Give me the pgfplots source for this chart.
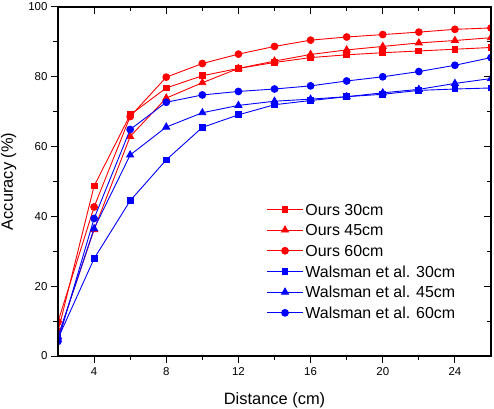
\documentclass[border=0pt]{standalone}
\usepackage{fontspec}
\setmainfont{Liberation Sans}
\usepackage{pgfplots}
\pgfplotsset{compat=1.18}
\definecolor{cred}{RGB}{255,0,0}
\definecolor{cblue}{RGB}{0,0,255}
\begin{document}
\begin{tikzpicture}
\pgfplotsset{
  common/.style={
    scale only axis, width=433bp, height=349bp,
    xmin=2, xmax=26, ymin=0, ymax=100,
    xtick={4,8,12,16,20,24}, ytick={0,20,40,60,80,100},
    minor xtick={6,10,14,18,22}, minor ytick={10,30,50,70,90},
    axis line style={line width=1.2bp},
    major tick style={line width=1bp, black},
    minor tick style={line width=1bp, black},
    major tick length=7bp, minor tick length=4.5bp,
  },
}
\begin{axis}[common,
  xtick pos=bottom, ytick pos=left, tick align=outside,
  /pgf/number format/assume math mode=true,
  ticklabel style={font=\fontsize{11.5}{13}\selectfont},
  xticklabel style={yshift=-1bp},
  every axis x label/.style={at={(axis description cs:0.5,-0.1255)}, anchor=center},
  every axis y label/.style={at={(axis description cs:-0.1143,0.5)}, anchor=center, rotate=90},
  label style={font=\fontsize{16.5}{18}\selectfont},
  xlabel={Distance (cm)}, ylabel={Accuracy (\%)},
  clip marker paths=true,
  every axis plot/.append style={line width=0.9bp},
  legend cell align=left,
  legend style={at={(axis cs:13.55,44.3)}, anchor=north west, draw=none, fill=none,
    inner sep=0pt, row sep=5.2bp, font=\fontsize{16}{18}\selectfont,
    nodes={inner sep=2bp, text height=11.5bp, text depth=0bp},
    /tikz/every even column/.append style={column sep=5bp}},
  legend image code/.code={\draw[mark repeat=2, mark phase=2] plot coordinates {(0bp,0bp) (18bp,0bp) (36bp,0bp)};},
]
\addplot[cred, mark=square*, mark size=2.9bp, mark options={solid}] coordinates {
(2,7) (4,48.7) (6,69.1) (8,76.8) (10,80.3) (12,82.4) (14,84.1) (16,85.5) (18,86.3) (20,86.9) (22,87.4) (24,87.9) (26,88.4)};
\addlegendentry{Ours 30cm}
\addplot[cred, mark=triangle*, mark size=4bp] coordinates {
(2,5.5) (4,36.2) (6,62.9) (8,73.9) (10,78.3) (12,82.4) (14,84.5) (16,86.4) (18,87.7) (20,88.7) (22,89.7) (24,90.4) (26,91.2)};
\addlegendentry{Ours 45cm}
\addplot[cred, mark=*, mark size=3.4bp] coordinates {
(2,9.8) (4,42.7) (6,68.6) (8,79.9) (10,83.8) (12,86.5) (14,88.7) (16,90.5) (18,91.4) (20,92.1) (22,92.8) (24,93.6) (26,94.0)};
\addlegendentry{Ours 60cm}
\addplot[cblue, mark=square*, mark size=2.9bp] coordinates {
(2,5) (4,27.9) (6,44.5) (8,56.2) (10,65.5) (12,69.1) (14,72.0) (16,73.2) (18,74.3) (20,75.0) (22,76.1) (24,76.5) (26,76.8)};
\addlegendentry{Walsman et al. 30cm}
\addplot[cblue, mark=triangle*, mark size=4bp] coordinates {
(2,5.5) (4,36.5) (6,57.6) (8,65.6) (10,69.7) (12,71.8) (14,73.0) (16,73.6) (18,74.3) (20,75.4) (22,76.4) (24,78.1) (26,79.5)};
\addlegendentry{Walsman et al. 45cm}
\addplot[cblue, mark=*, mark size=3.4bp] coordinates {
(2,4.2) (4,39.4) (6,64.9) (8,72.7) (10,74.8) (12,75.8) (14,76.5) (16,77.4) (18,78.8) (20,80.0) (22,81.5) (24,83.3) (26,85.5)};
\addlegendentry{Walsman et al. 60cm}
\end{axis}
\begin{axis}[common,
  xtick pos=top, ytick pos=right, tick align=inside,
  xticklabels={}, yticklabels={},
]
\end{axis}
\pgfresetboundingbox
\path (-58bp,-52.3bp) rectangle (436bp,356bp);
\end{tikzpicture}
\end{document}
